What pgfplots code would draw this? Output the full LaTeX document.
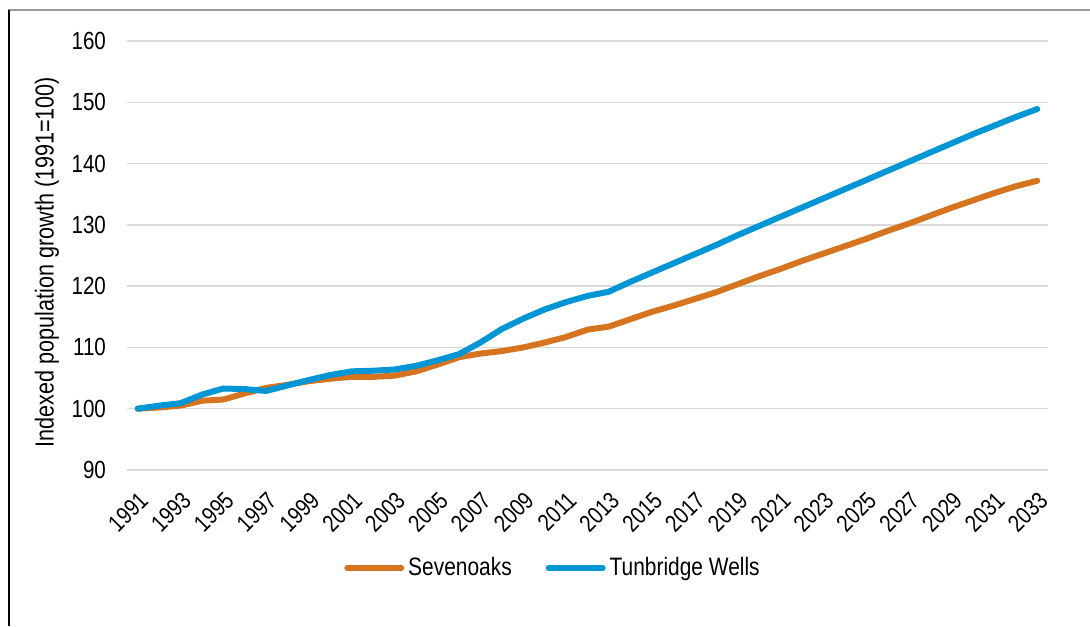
\documentclass[border=0pt]{standalone}
\usepackage{fontspec}
\setmainfont{Liberation Sans}[FakeStretch=0.83]
\usepackage{pgfplots}
\pgfplotsset{compat=1.18}
\definecolor{sevorange}{RGB}{214,116,31}
\definecolor{tunblue}{RGB}{0,150,214}
\definecolor{gridgray}{RGB}{217,217,217}
\begin{document}
\begin{tikzpicture}
\path[use as bounding box] (0,0) rectangle (545pt,313pt);
\draw[line width=0.75pt, color=black!40] (4pt,308pt) -- (545pt,308pt);
\draw[line width=0.75pt, color=black] (4.5pt,308pt) -- (4.5pt,0pt);
\begin{axis}[
  at={(63.5pt,78pt)}, anchor=south west,
  scale only axis, width=460.5pt, height=214.5pt,
  xmin=1990.5, xmax=2033.5, ymin=90, ymax=160,
  ytick={90,100,...,160},
  xtick={1991,1993,...,2033},
  axis line style={draw=none},
  tick style={draw=none},
  ymajorgrids, grid style={gridgray, line width=0.75pt},
  font=\fontsize{12.4}{14}\selectfont,
  /pgf/number format/assume math mode=true,
  /pgf/number format/1000 sep={},
  xticklabel style={rotate=45, anchor=north east, inner sep=1pt, yshift=-6pt, xshift=-6pt,
    font=\fontsize{12}{14}\selectfont},
  yticklabel style={anchor=east, xshift=-7pt},
  ylabel={Indexed population growth (1991=100)},
  ylabel style={at={(axis description cs:-0.0869,0.485)}, anchor=center,
    font=\fontsize{13}{15}\selectfont},
  legend style={at={(axis description cs:0.4636,-0.2284)}, anchor=center, draw=none, fill=none,
    legend columns=2, /tikz/every even column/.append style={column sep=15pt},
    font=\fontsize{12.6}{14}\selectfont},
  legend image code/.code={\draw[#1, line cap=round] (0pt,0pt) -- (27pt,0pt);},
  every axis plot/.append style={line width=3pt, line join=round, line cap=round, mark=none},
]
\addplot[sevorange] coordinates {
(1991,100.0) (1992,100.2) (1993,100.5) (1994,101.3) (1995,101.5) (1996,102.5)
(1997,103.4) (1998,103.9) (1999,104.5) (2000,104.9) (2001,105.2) (2002,105.2)
(2003,105.4) (2004,106.1) (2005,107.2) (2006,108.4) (2007,109.0) (2008,109.4)
(2009,110.0) (2010,110.8) (2011,111.7) (2012,112.9) (2013,113.4) (2014,114.6)
(2015,115.8) (2016,116.8) (2017,117.9) (2018,119.0) (2019,120.3) (2020,121.6)
(2021,122.8) (2022,124.1) (2023,125.3) (2024,126.5) (2025,127.7) (2026,129.0)
(2027,130.2) (2028,131.5) (2029,132.8) (2030,134.0) (2031,135.2) (2032,136.3)
(2033,137.2)
};
\addlegendentry{Sevenoaks}
\addplot[tunblue] coordinates {
(1991,100.0) (1992,100.5) (1993,100.9) (1994,102.3) (1995,103.3) (1996,103.2)
(1997,102.9) (1998,103.8) (1999,104.7) (2000,105.5) (2001,106.1) (2002,106.2)
(2003,106.4) (2004,107.0) (2005,107.9) (2006,108.9) (2007,110.8) (2008,113.0)
(2009,114.7) (2010,116.2) (2011,117.4) (2012,118.4) (2013,119.1) (2014,120.7)
(2015,122.2) (2016,123.7) (2017,125.2) (2018,126.7) (2019,128.3) (2020,129.8)
(2021,131.3) (2022,132.8) (2023,134.3) (2024,135.8) (2025,137.3) (2026,138.8)
(2027,140.3) (2028,141.8) (2029,143.3) (2030,144.8) (2031,146.2) (2032,147.6)
(2033,148.9)
};
\addlegendentry{Tunbridge Wells}
\end{axis}
\end{tikzpicture}
\end{document}
